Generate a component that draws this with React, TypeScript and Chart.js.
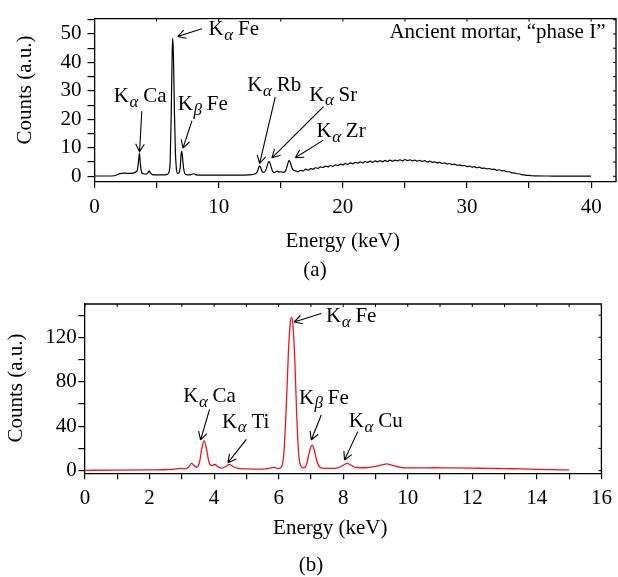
import React, { useEffect, useRef } from "react";
import { Chart, registerables } from "chart.js";

Chart.register(...registerables);

// ---------- Panel (a): ancient mortar, phase I ----------
const energyA = [
  0, 1.0, 1.6, 1.9, 2.2, 2.5, 2.8, 3.1, 3.3, 3.45, 3.55, 3.62, 3.7, 3.8, 3.95, 4.15, 4.3, 4.4, 4.5, 4.65,
  5.0, 5.5, 5.85, 6.0, 6.1, 6.18, 6.26, 6.3, 6.36, 6.44, 6.52, 6.6, 6.7, 6.8, 6.9, 6.97, 7.02, 7.08, 7.17, 7.27,
  7.4, 7.7, 7.95, 8.2, 8.6, 9.5, 10.5, 11.5, 12.4, 12.9, 13.1, 13.22, 13.3, 13.4, 13.55, 13.7, 13.85, 13.98, 14.08, 14.18,
  14.32, 14.5, 14.7, 14.85, 15.0, 15.2, 15.4, 15.55, 15.68, 15.8, 15.95,
  16.2, 16.4, 16.6, 16.8, 17.0, 17.2, 17.4, 17.6, 17.8, 18.0, 18.2, 18.4, 18.6, 18.8, 19.0, 19.2, 19.4, 19.6, 19.8, 20.0,
  20.2, 20.4, 20.6, 20.8, 21.0, 21.2, 21.4, 21.6, 21.8, 22.0, 22.2, 22.4, 22.6, 22.8, 23.0, 23.2, 23.4, 23.6, 23.8, 24.0,
  24.2, 24.4, 24.6, 24.8, 25.0, 25.2, 25.4, 25.6, 25.8, 26.0, 26.2, 26.4, 26.6, 26.8, 27.0, 27.2, 27.4, 27.6, 27.8, 28.0,
  28.2, 28.4, 28.6, 28.8, 29.0, 29.2, 29.4, 29.6, 29.8, 30.0, 30.2, 30.4, 30.6, 30.8, 31.0, 31.2, 31.4, 31.6, 31.8, 32.0,
  32.2, 32.4, 32.6, 32.8, 33.0, 33.2, 33.4, 33.6, 33.8, 34.0, 34.2, 34.4, 34.6, 34.8, 35.0, 35.2, 35.4,
  36.5, 38, 40,
];
const countsA = [
  0.1, 0.1, 0.2, 0.7, 1.0, 1.1, 1.0, 1.1, 1.5, 2.2, 5.5, 8.2, 4.0, 1.3, 0.9, 0.8, 1.2, 1.9, 1.2, 0.6,
  0.5, 0.5, 0.7, 1.5, 6, 22, 44, 48.5, 42, 22, 8, 2.5, 1.0, 1.2, 3, 7.5, 8.8, 7, 3, 1.0,
  0.6, 0.5, 0.9, 0.5, 0.4, 0.4, 0.4, 0.4, 0.5, 0.8, 1.5, 3.0, 3.7, 2.8, 1.4, 1.5, 2.8, 4.8, 5.2, 4.0,
  2.0, 1.3, 1.8, 1.5, 1.6, 1.4, 2.0, 4.2, 5.6, 4.4, 2.4,
  1.9, 1.6, 2.1, 1.9, 2.5, 2.2, 2.7, 2.5, 3.0, 2.8, 3.3, 3.1, 3.6, 3.3, 3.8, 3.5, 4.0, 3.8, 4.3, 4.0,
  4.5, 4.2, 4.7, 4.4, 4.9, 4.6, 5.1, 4.7, 5.2, 4.9, 5.3, 4.9, 5.4, 5.1, 5.5, 5.1, 5.6, 5.2, 5.7, 5.3,
  5.7, 5.4, 5.8, 5.4, 5.9, 5.5, 5.8, 5.4, 5.7, 5.3, 5.6, 5.2, 5.5, 5.0, 5.3, 4.9, 5.1, 4.7, 4.9, 4.5,
  4.7, 4.3, 4.5, 4.1, 4.3, 3.9, 4.0, 3.7, 3.8, 3.4, 3.6, 3.2, 3.4, 3.0, 3.2, 2.8, 2.9, 2.6, 2.7, 2.4,
  2.5, 2.1, 2.3, 1.9, 2.0, 1.6, 1.6, 1.2, 1.2, 0.9, 0.9, 0.6, 0.5, 0.35, 0.3, 0.2, 0.15,
  0.1, 0.05, 0.05,
];
const xLabelsA = [0, 10, 20, 30, 40];
const yLabelsA = [0, 10, 20, 30, 40, 50];

// ---------- Panel (b) ----------
const energyB = [
  0, 1.0, 2.0, 2.6, 2.85, 2.95, 3.1, 3.22, 3.3, 3.38, 3.47, 3.55, 3.62, 3.69, 3.76, 3.84, 3.92, 4.02, 4.12, 4.22,
  4.35, 4.47, 4.6, 4.75, 4.95, 5.3, 5.6, 5.75, 5.87, 5.98, 6.08, 6.16, 6.24, 6.3, 6.36, 6.4, 6.44, 6.5, 6.56, 6.62,
  6.7, 6.78, 6.86, 6.93, 7.0, 7.04, 7.1, 7.17, 7.25, 7.35, 7.6, 7.85, 8.0, 8.12, 8.25, 8.4, 8.7, 9.0, 9.2, 9.35,
  9.5, 9.7, 9.9, 10.3, 10.8, 11.3, 12.0, 12.5, 13.0, 13.5, 14.0, 14.5, 15.0,
];
const countsB = [
  0.3, 0.4, 0.7, 1.0, 1.6, 2.0, 1.6, 3.5, 6.5, 4.5, 3.0, 8, 20, 27, 20, 8, 4.5, 5.5, 3.5, 2.2,
  3.5, 5.6, 3.5, 2.0, 1.5, 1.4, 1.6, 2.4, 3.0, 1.8, 3, 15, 60, 105, 133, 138, 132, 100, 50, 15,
  3.5, 2.5, 5, 14, 21.5, 23, 19, 10, 4, 2.2, 2.0, 2.8, 4.8, 6.5, 4.8, 2.8, 2.6, 3.8, 5.2, 6.0,
  5.0, 3.5, 2.4, 2.4, 2.6, 2.4, 2.2, 2.1, 1.8, 1.6, 1.2, 0.9, 0.6,
];
const xLabelsB = [0, 2, 4, 6, 8, 10, 12, 14, 16];
const yLabelsB = [0, 40, 80, 120];

// Peak annotations (label anchor, arrow tail, arrow tip in data units)
const notesA = [
  { sym: "α", el: "Fe", tx: 9.19, ty: 52.0, align: "left", tail: [8.65, 51.8], tip: [6.69, 49.1] },
  { sym: "α", el: "Ca", tx: 3.68, ty: 28.5, align: "center", tail: [3.81, 22.9], tip: [3.63, 8.6] },
  { sym: "β", el: "Fe", tx: 8.72, ty: 25.7, align: "center", tail: [7.85, 19.5], tip: [7.12, 9.9] },
  { sym: "α", el: "Rb", tx: 14.48, ty: 32.4, align: "center", tail: [14.56, 27.9], tip: [13.3, 4.5] },
  { sym: "α", el: "Sr", tx: 19.23, ty: 29.05, align: "center", tail: [18.45, 24.5], tip: [14.29, 6.5] },
  { sym: "α", el: "Zr", tx: 19.86, ty: 16.1, align: "center", tail: [18.43, 12.7], tip: [16.17, 6.5] },
];
const notesB = [
  { sym: "α", el: "Fe", tx: 7.47, ty: 140.1, align: "left", tail: [7.32, 141.5], tip: [6.48, 133.8] },
  { sym: "α", el: "Ca", tx: 3.86, ty: 68.1, align: "center", tail: [3.86, 55.2], tip: [3.58, 27.6] },
  { sym: "α", el: "Ti", tx: 4.98, ty: 45, align: "center", tail: [5.0, 28.2], tip: [4.43, 7.2] },
  { sym: "β", el: "Fe", tx: 7.4, ty: 66.6, align: "center", tail: [7.32, 50.1], tip: [7.01, 27.6] },
  { sym: "α", el: "Cu", tx: 9.01, ty: 45.6, align: "center", tail: [8.45, 35.1], tip: [8.04, 9.6] },
];

const FONT = '"Liberation Serif", "Times New Roman", serif';

type Note = { sym: string; el: string; tx: number; ty: number; align: string; tail: number[]; tip: number[] };
type PanelSpec = {
  key: string;
  top: number;
  height: number;
  energy: number[];
  counts: number[];
  color: string;
  lineWidth: number;
  xr: { min: number; max: number; step: number; labels: number[] };
  yr: { min: number; max: number; step: number; labels: number[] };
  area: { left: number; right: number; top: number; bottom: number };
  fontSize: number;
  yTickLen: number;
  yTickPad: number;
  xTickLen: number;
  xTickPad: number;
  yTitleX: number;
  yTitleY: number;
  xTitleY: number;
  xTitleAt: number;
  caption: string;
  captionX: number;
  captionY: number;
  notes: Note[];
  extra?: { text: string; x: number; y: number };
};

const panelA: PanelSpec = {
  key: "a",
  top: 0,
  height: 288,
  energy: energyA,
  counts: countsA,
  color: "#000000",
  lineWidth: 1.2,
  xr: { min: 0, max: 42, step: 5, labels: xLabelsA },
  yr: { min: -2, max: 55.4, step: 5, labels: yLabelsA },
  area: { left: 94.5, right: 616, top: 12, bottom: 182 },
  fontSize: 21,
  yTickLen: 7,
  yTickPad: 6,
  xTickLen: 6,
  xTickPad: 6.4,
  yTitleX: 25,
  yTitleY: 90,
  xTitleY: 241,
  xTitleAt: 20,
  caption: "(a)",
  captionX: 315,
  captionY: 270,
  notes: notesA,
  extra: { text: "Ancient mortar, \u201Cphase I\u201D", x: 41.15, y: 50.6 },
};

const panelB: PanelSpec = {
  key: "b",
  top: 288,
  height: 289,
  energy: energyB,
  counts: countsB,
  color: "rgb(240,20,30)",
  lineWidth: 1.3,
  xr: { min: 0, max: 16, step: 1, labels: xLabelsB },
  yr: { min: -2.4, max: 150, step: 20, labels: yLabelsB },
  area: { left: 85, right: 606, top: 16, bottom: 185.3 },
  fontSize: 21,
  yTickLen: 6.7,
  yTickPad: 1.5,
  xTickLen: 6,
  xTickPad: 6.1,
  yTitleX: 16,
  yTitleY: 100,
  xTitleY: 240,
  xTitleAt: 7.6,
  caption: "(b)",
  captionX: 311,
  captionY: 277,
  notes: notesB,
};

function drawKLabel(ctx: CanvasRenderingContext2D, x: number, y: number, sym: string, el: string, size: number, align: string) {
  const f = `${size}px ${FONT}`;
  const fi = `italic ${Math.round(size * 0.8)}px ${FONT}`;
  ctx.font = f;
  const wK = ctx.measureText("K").width;
  ctx.font = fi;
  const wS = ctx.measureText(sym).width;
  ctx.font = f;
  const wE = ctx.measureText(" " + el).width;
  const total = wK + wS + wE;
  const x0 = align === "center" ? x - total / 2 : x;
  ctx.textAlign = "left";
  ctx.textBaseline = "alphabetic";
  const base = y + size * 0.33;
  ctx.font = f;
  ctx.fillText("K", x0, base);
  ctx.font = fi;
  ctx.fillText(sym, x0 + wK + 0.5, base + size * 0.22);
  ctx.font = f;
  ctx.fillText(" " + el, x0 + wK + wS, base);
}

function drawArrow(ctx: CanvasRenderingContext2D, x1: number, y1: number, x2: number, y2: number) {
  ctx.beginPath();
  ctx.moveTo(x1, y1);
  ctx.lineTo(x2, y2);
  const ang = Math.atan2(y2 - y1, x2 - x1);
  const L = 9;
  const a = 0.5;
  for (const sg of [-1, 1]) {
    ctx.moveTo(x2, y2);
    ctx.lineTo(x2 - L * Math.cos(ang + sg * a), y2 - L * Math.sin(ang + sg * a));
  }
  ctx.stroke();
}

function SpectrumPanel({ p }: { p: PanelSpec }) {
  const ref = useRef<HTMLCanvasElement | null>(null);
  const W = 618;

  useEffect(() => {
    const canvas = ref.current;
    if (!canvas) return;
    const a = p.area;

    const overlay = {
      id: "overlay_" + p.key,
      afterDatasetsDraw(chart: any) {
        const { ctx, chartArea: ca, scales } = chart;
        const xs = scales.x;
        const ys = scales.y;
        ctx.save();
        ctx.strokeStyle = "#000";
        ctx.lineWidth = 1.3;
        ctx.beginPath();
        ctx.moveTo(ca.left, ca.top);
        ctx.lineTo(ca.right, ca.top);
        ctx.lineTo(ca.right, ca.bottom);
        ctx.stroke();
        ctx.lineWidth = 1;
        ctx.beginPath();
        xs.ticks.forEach((t: any) => {
          const px = xs.getPixelForValue(t.value);
          ctx.moveTo(px, ca.top);
          ctx.lineTo(px, ca.top + 3);
        });
        ys.ticks.forEach((t: any) => {
          const py = ys.getPixelForValue(t.value);
          ctx.moveTo(ca.right, py);
          ctx.lineTo(ca.right - 3, py);
        });
        ctx.stroke();

        ctx.fillStyle = "#000";
        ctx.font = `${p.fontSize}px ${FONT}`;
        ctx.textAlign = "center";
        ctx.textBaseline = "middle";
        ctx.fillText("Energy (keV)", xs.getPixelForValue(p.xTitleAt), p.xTitleY);
        ctx.fillText(p.caption, p.captionX, p.captionY);
        ctx.save();
        ctx.translate(p.yTitleX, p.yTitleY);
        ctx.rotate(-Math.PI / 2);
        ctx.fillText("Counts (a.u.)", 0, 0);
        ctx.restore();

        if (p.extra) {
          ctx.textAlign = "right";
          ctx.textBaseline = "middle";
          ctx.fillText(p.extra.text, xs.getPixelForValue(p.extra.x), ys.getPixelForValue(p.extra.y));
        }

        ctx.lineWidth = 1.1;
        ctx.strokeStyle = "#000";
        p.notes.forEach((n) => {
          drawKLabel(ctx, xs.getPixelForValue(n.tx), ys.getPixelForValue(n.ty), n.sym, n.el, p.fontSize, n.align);
          drawArrow(
            ctx,
            xs.getPixelForValue(n.tail[0]),
            ys.getPixelForValue(n.tail[1]),
            xs.getPixelForValue(n.tip[0]),
            ys.getPixelForValue(n.tip[1])
          );
        });
        ctx.restore();
      },
    };

    const tickFont = { family: FONT, size: p.fontSize };
    const chart = new Chart(canvas, {
      type: "line",
      data: {
        datasets: [
          {
            data: p.energy.map((e, i) => ({ x: e, y: p.counts[i] })),
            borderColor: p.color,
            borderWidth: p.lineWidth,
            pointRadius: 0,
            cubicInterpolationMode: "monotone",
            fill: false,
          },
        ],
      },
      options: {
        animation: false,
        responsive: false,
        devicePixelRatio: 1,
        events: [],
        layout: { padding: { left: 0, right: W - a.right, top: a.top, bottom: 0 } },
        plugins: { legend: { display: false }, tooltip: { enabled: false } },
        scales: {
          x: {
            type: "linear",
            min: p.xr.min,
            max: p.xr.max,
            afterFit: (sc: any) => {
              sc.height = p.height - a.bottom;
            },
            ticks: {
              stepSize: p.xr.step,
              includeBounds: false,
              autoSkip: false,
              maxRotation: 0,
              color: "#000",
              font: tickFont,
              padding: p.xTickPad,
              callback: (v: any) => (p.xr.labels.includes(Number(v)) ? String(v) : ""),
            },
            grid: { display: true, drawOnChartArea: false, drawTicks: true, tickLength: p.xTickLen, color: "#000", lineWidth: 1.2 },
            border: { display: true, color: "#000", width: 1.3 },
          },
          y: {
            type: "linear",
            min: p.yr.min,
            max: p.yr.max,
            afterFit: (sc: any) => {
              sc.width = a.left;
            },
            ticks: {
              stepSize: p.yr.step,
              includeBounds: false,
              autoSkip: false,
              color: "#000",
              font: tickFont,
              padding: p.yTickPad,
              callback: (v: any) => (p.yr.labels.includes(Number(v)) ? String(v) : ""),
            },
            grid: { display: true, drawOnChartArea: false, drawTicks: true, tickLength: p.yTickLen, color: "#000", lineWidth: 1.2 },
            border: { display: true, color: "#000", width: 1.3 },
          },
        },
      } as any,
      plugins: [overlay as any],
    });
    return () => chart.destroy();
  }, [p]);

  return (
    <canvas
      ref={ref}
      width={W}
      height={p.height}
      style={{ position: "absolute", left: 0, top: p.top, width: W, height: p.height, display: "block" }}
    />
  );
}

export default function App() {
  return (
    <div style={{ position: "fixed", left: 0, top: 0, width: 618, height: 577, background: "#fff", overflow: "hidden" }}>
      <SpectrumPanel p={panelA} />
      <SpectrumPanel p={panelB} />
    </div>
  );
}
